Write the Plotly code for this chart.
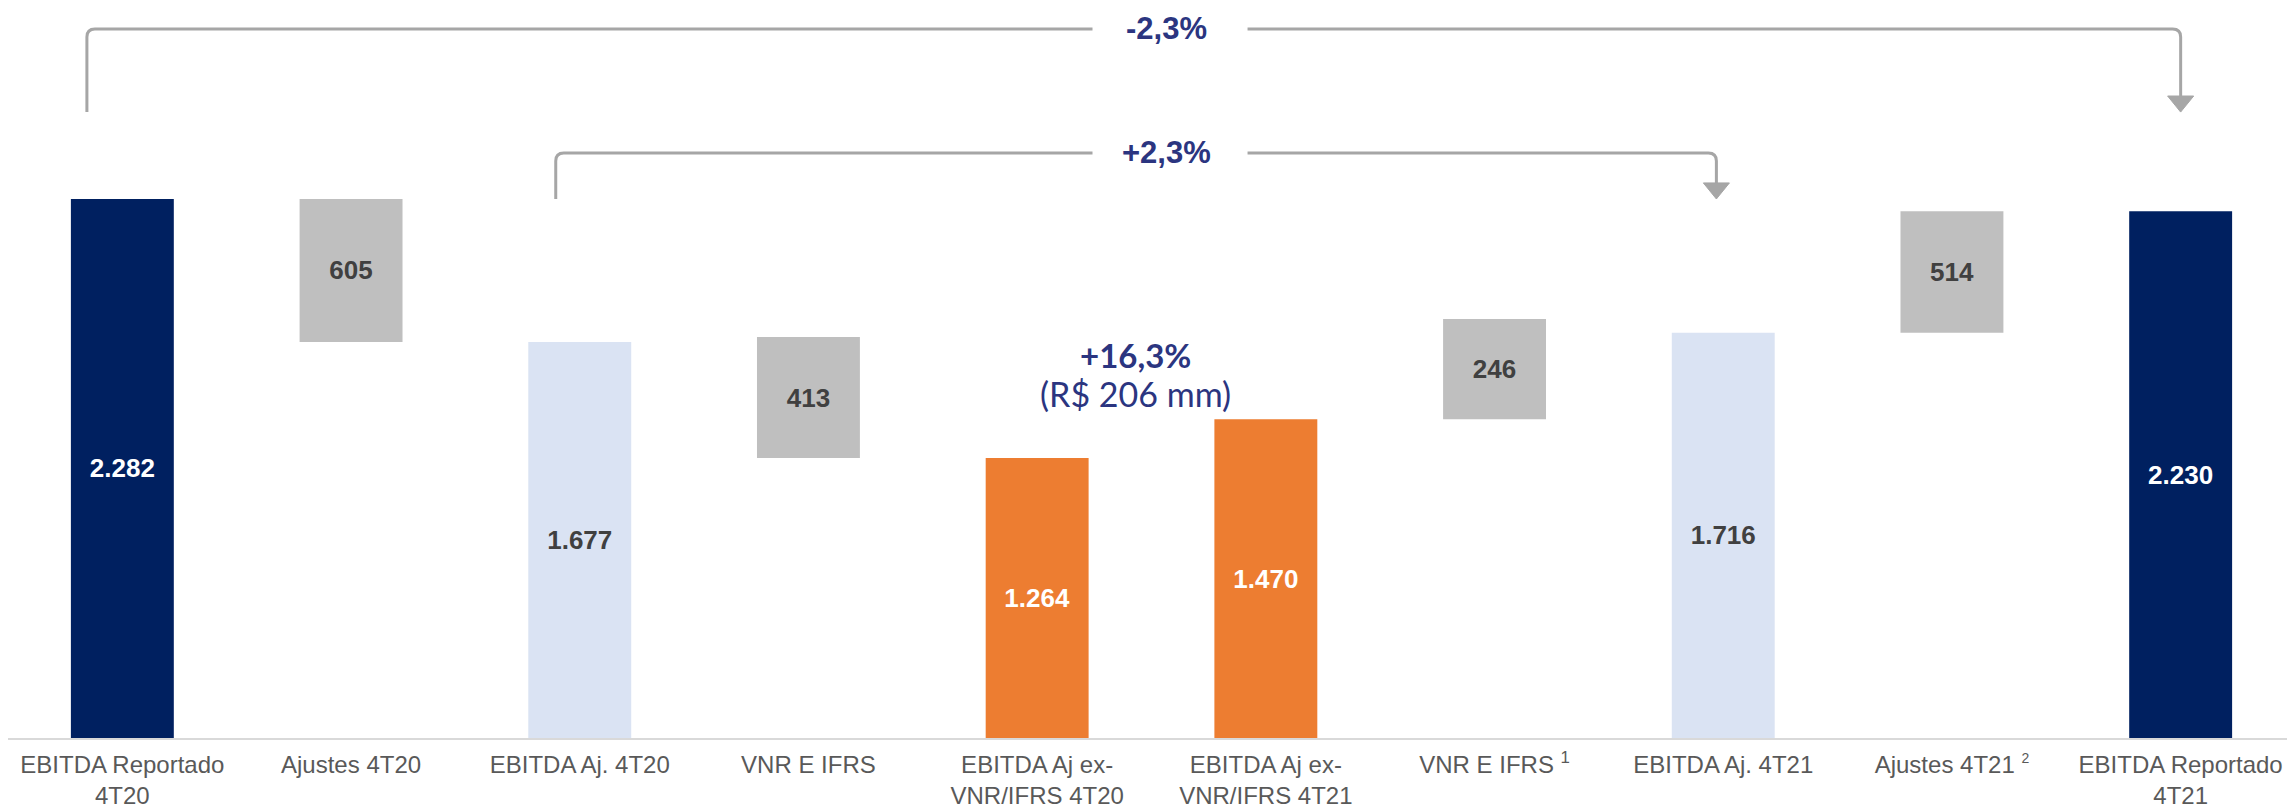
import plotly.graph_objects as go

categories = ["EBITDA Reportado<br>4T20", "Ajustes 4T20", "EBITDA Aj. 4T20", "VNR E IFRS",
              "EBITDA Aj ex-<br>VNR/IFRS 4T20", "EBITDA Aj ex-<br>VNR/IFRS 4T21",
              "VNR E IFRS <sup>1</sup>", "EBITDA Aj. 4T21",
              "Ajustes 4T21 <sup><span style='font-size:14px'>2</span></sup>",
              "EBITDA Reportado<br>4T21"]
# bar heights and bases as drawn in the picture (the middle bars are not to scale)
heights = [2282, 605, 1677, 513, 1185, 1350, 424, 1716, 514, 2230]
bases = [0, 1677, 0, 1185, 0, 0, 1350, 0, 1716, 0]
# reported values shown as labels
labels = ["2.282", "605", "1.677", "413", "1.264", "1.470", "246", "1.716", "514", "2.230"]

NAVY = "#002060"
GRAY = "#BFBFBF"
LBLUE = "#DAE3F3"
ORANGE = "#ED7D31"
bar_colors = [NAVY, GRAY, LBLUE, GRAY, ORANGE, ORANGE, GRAY, LBLUE, GRAY, NAVY]
label_colors = ["white", "#404040", "#404040", "#404040", "white", "white",
                "#404040", "#404040", "#404040", "white"]

TXT = "#2B3580"
LINE = "#A6A6A6"

xs = list(range(len(categories)))

fig = go.Figure()
fig.add_trace(go.Bar(
    x=xs, y=heights, base=bases, width=0.45,
    marker=dict(color=bar_colors, line=dict(width=0)),
    text=labels, texttemplate="<b>%{text}</b>",
    textposition="inside", insidetextanchor="middle", textangle=0,
    textfont=dict(family="Liberation Sans, Arial", size=26, color=label_colors),
    hoverinfo="skip",
))

# brackets: (x_left, y_left_bottom, y_top, x_right, y_tip, label)
brackets = [
    (-0.155, 2650, 3002, 9.0, 2650, "-2,3%"),
    (1.895, 2282, 2477, 6.97, 2282, "+2,3%"),
]
gap_l, gap_r, text_x = 4.242, 4.92, 4.566
dx, dy = 0.035, 34
aw, ah = 0.114, 68

shapes = []
annotations = []
for xl, yb, yt, xr, tip, lab in brackets:
    p1 = f"M {xl},{yb} L {xl},{yt-dy} Q {xl},{yt} {xl+dx},{yt} L {gap_l},{yt}"
    p2 = f"M {gap_r},{yt} L {xr-dx},{yt} Q {xr},{yt} {xr},{yt-dy} L {xr},{tip+ah}"
    for p in (p1, p2):
        shapes.append(dict(type="path", xref="x", yref="y", path=p,
                           line=dict(color=LINE, width=3)))
    arrow = f"M {xr-aw/2},{tip+ah} L {xr+aw/2},{tip+ah} L {xr},{tip} Z"
    shapes.append(dict(type="path", xref="x", yref="y", path=arrow,
                       fillcolor=LINE, line=dict(color=LINE, width=1)))
    annotations.append(dict(x=text_x, y=yt, xref="x", yref="y", text=f"<b>{lab}</b>",
                            showarrow=False, xanchor="center", yanchor="middle",
                            font=dict(family="Liberation Sans, Arial", size=31, color=TXT)))

annotations.append(dict(x=4.43, y=1622, xref="x", yref="y", text="<b>+16,3%</b>",
                        showarrow=False, xanchor="center", yanchor="middle",
                        font=dict(family="Lato", size=33, color=TXT)))
annotations.append(dict(x=4.43, y=1458, xref="x", yref="y", text="(R$ 206 mm)",
                        showarrow=False, xanchor="center", yanchor="middle",
                        font=dict(family="Lato", size=34, color=TXT)))

fig.update_layout(
    width=2287, height=799,
    margin=dict(l=0, r=0, t=0, b=69),
    plot_bgcolor="white", paper_bgcolor="white",
    showlegend=False,
    shapes=shapes, annotations=annotations,
    xaxis=dict(range=[-0.5, 9.5], tickmode="array", tickvals=xs, ticktext=categories,
               showline=True, linecolor="#D9D9D9", linewidth=2, ticks="",
               ticklabelstandoff=4, automargin=False,
               showgrid=False, zeroline=False,
               tickfont=dict(family="Liberation Sans, Arial", size=24, color="#595959")),
    yaxis=dict(range=[0, 3090.6], visible=False, showgrid=False, zeroline=False,
               automargin=False),
)

fig.write_html("out.html")
